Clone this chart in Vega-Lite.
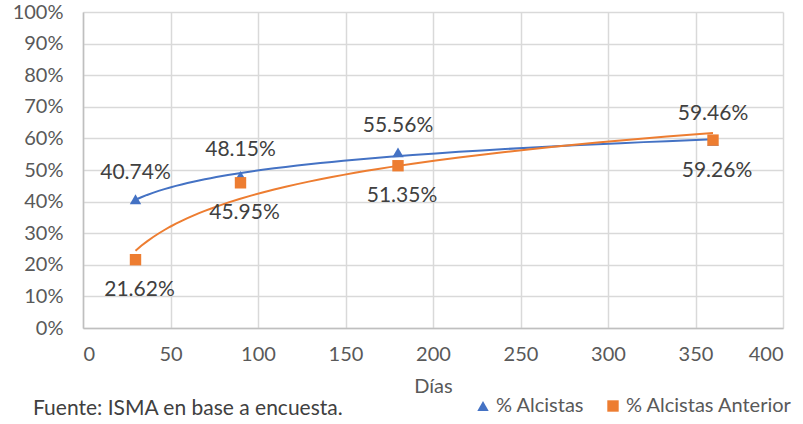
{
  "$schema": "https://vega.github.io/schema/vega-lite/v6.json",
  "width": 700,
  "height": 316,
  "autosize": "none",
  "padding": {"left": 83, "top": 12, "right": 20, "bottom": 96},
  "background": "white",
  "config": {
    "font": "Lato",
    "view": {"stroke": null},
    "axis": {
      "labelFont": "Lato", "labelFontSize": 20, "labelColor": "#595959",
      "gridColor": "#d9d9d9", "gridWidth": 1.5,
      "domainColor": "#bfbfbf", "domainWidth": 1.5,
      "ticks": false, "titleFont": "Lato", "titleFontSize": 20, "titleColor": "#595959", "titleFontWeight": "normal"
    },
    "legend": {
      "orient": "none", "legendX": 390, "legendY": 384, "direction": "horizontal",
      "labelFont": "Lato", "labelFontSize": 20, "labelColor": "#595959", "symbolSize": 130,
      "columnPadding": 18, "labelOffset": 3, "labelLimit": 300, "title": null
    }
  },
  "title": {
    "text": "Fuente: ISMA en base a encuesta.",
    "orient": "bottom", "anchor": "start", "frame": "group", "font": "Lato", "fontSize": 21,
    "fontWeight": "normal", "color": "#404040", "dx": -50, "offset": -18
  },
  "data": {
    "values": [
      {"dias": 30, "valor": 0.4074, "serie": "% Alcistas"},
      {"dias": 90, "valor": 0.4815, "serie": "% Alcistas"},
      {"dias": 180, "valor": 0.5556, "serie": "% Alcistas"},
      {"dias": 360, "valor": 0.5926, "serie": "% Alcistas"},
      {"dias": 30, "valor": 0.2162, "serie": "% Alcistas Anterior"},
      {"dias": 90, "valor": 0.4595, "serie": "% Alcistas Anterior"},
      {"dias": 180, "valor": 0.5135, "serie": "% Alcistas Anterior"},
      {"dias": 360, "valor": 0.5946, "serie": "% Alcistas Anterior"}
    ]
  },
  "encoding": {
    "x": {
      "field": "dias", "type": "quantitative",
      "scale": {"domain": [0, 400], "nice": false},
      "axis": {"values": [0, 50, 100, 150, 200, 250, 300, 350, 400], "title": "Días", "labelPadding": 16, "titlePadding": 12}
    },
    "y": {
      "field": "valor", "type": "quantitative",
      "scale": {"domain": [0, 1], "nice": false},
      "axis": {"values": [0, 0.1, 0.2, 0.3, 0.4, 0.5, 0.6, 0.7, 0.8, 0.9, 1], "format": ".0%", "title": null, "labelPadding": 20}
    }
  },
  "layer": [
    {
      "transform": [
        {"filter": "datum.serie == '% Alcistas'"},
        {"regression": "valor", "on": "dias", "method": "log", "extent": [30, 360]}
      ],
      "mark": {"type": "line", "strokeWidth": 2, "color": "#4472C4"},
      "encoding": {}
    },
    {
      "transform": [
        {"filter": "datum.serie == '% Alcistas Anterior'"},
        {"regression": "valor", "on": "dias", "method": "log", "extent": [30, 360]}
      ],
      "mark": {"type": "line", "strokeWidth": 2, "color": "#ED7D31"},
      "encoding": {}
    },
    {
      "mark": {"type": "point", "filled": true, "opacity": 1, "size": 130},
      "encoding": {
        "color": {"field": "serie", "type": "nominal", "scale": {"domain": ["% Alcistas", "% Alcistas Anterior"], "range": ["#4472C4", "#ED7D31"]}},
        "shape": {"field": "serie", "type": "nominal", "scale": {"domain": ["% Alcistas", "% Alcistas Anterior"], "range": ["triangle-up", "square"]}}
      }
    },
    {
      "transform": [
        {"filter": "(datum.serie == '% Alcistas' && datum.dias < 300) || (datum.serie == '% Alcistas Anterior' && datum.dias > 300)"}
      ],
      "mark": {"type": "text", "dy": -26, "fontSize": 21, "color": "#404040", "font": "Lato", "baseline": "middle"},
      "encoding": {"text": {"field": "valor", "type": "quantitative", "format": ".2%"}}
    },
    {
      "transform": [
        {"filter": "(datum.serie == '% Alcistas Anterior' && datum.dias < 300) || (datum.serie == '% Alcistas' && datum.dias > 300)"}
      ],
      "mark": {"type": "text", "dy": 30, "dx": 4, "fontSize": 21, "color": "#404040", "font": "Lato", "baseline": "middle"},
      "encoding": {"text": {"field": "valor", "type": "quantitative", "format": ".2%"}}
    }
  ]
}
